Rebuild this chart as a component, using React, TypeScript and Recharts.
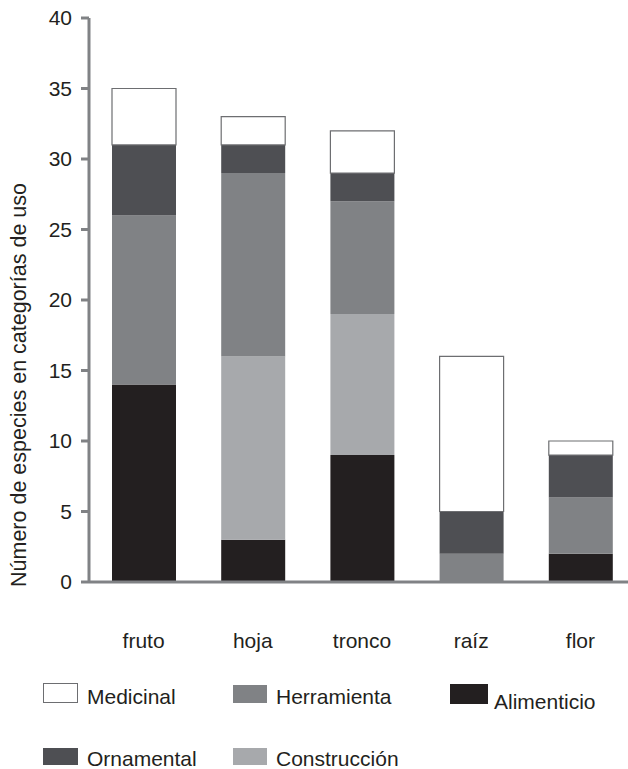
import { BarChart, Bar, XAxis, YAxis } from 'recharts'

const categories = ['fruto', 'hoja', 'tronco', 'raíz', 'flor']
const alimenticio = [14, 3, 9, 0, 2]
const construccion = [0, 13, 10, 0, 0]
const herramienta = [12, 13, 8, 2, 4]
const ornamental = [5, 2, 2, 3, 3]
const medicinal = [4, 2, 3, 11, 1]
const yTicks = [0, 5, 10, 15, 20, 25, 30, 35, 40]

const FONT = '"Liberation Sans", Arial, sans-serif'
const AXIS = '#808285'

// stacking order, bottom to top
const SERIES = [
  { key: 'alimenticio', name: 'Alimenticio', fill: '#231f20', stroke: 'none' },
  { key: 'construccion', name: 'Construcción', fill: '#a7a9ac', stroke: 'none' },
  { key: 'herramienta', name: 'Herramienta', fill: '#808285', stroke: 'none' },
  { key: 'ornamental', name: 'Ornamental', fill: '#4e4f53', stroke: 'none' },
  { key: 'medicinal', name: 'Medicinal', fill: '#ffffff', stroke: '#6d6e71' },
]

const data = categories.map((c, i) => ({
  name: c,
  alimenticio: alimenticio[i],
  construccion: construccion[i],
  herramienta: herramienta[i],
  ornamental: ornamental[i],
  medicinal: medicinal[i],
}))

// legend slots: [series key, box left, box top, box w, box h, text left, text center y]
const LEGEND: [string, number, number, number, number, number, number][] = [
  ['medicinal', 43, 683, 35, 20, 87, 697],
  ['herramienta', 233, 685, 34, 18, 276, 697],
  ['alimenticio', 450, 684, 38, 20, 494, 702],
  ['ornamental', 43, 748, 35, 17, 87, 759],
  ['construccion', 233, 748, 34, 17, 276, 759],
]

function CatTick(props: any) {
  const { x, y, payload } = props
  return (
    <text x={x} y={y + 58} textAnchor="middle" dominantBaseline="central"
      fontFamily={FONT} fontSize={21} fill="#231f20">{payload.value}</text>
  )
}

function YLabel() {
  return (
    <text x={0} y={0} transform="translate(19,385) rotate(-90)" textAnchor="middle"
      dominantBaseline="central" fontFamily={FONT} fontSize={21.5} fill="#231f20">
      Número de especies en categorías de uso
    </text>
  )
}

export default function App() {
  return (
    <div style={{ position: 'fixed', left: 0, top: 0, width: 628, height: 769, overflow: 'hidden', background: '#fff', fontFamily: FONT }}>
      <BarChart width={640} height={769} data={data} barSize={64}
        margin={{ top: 18, right: 5, bottom: 107, left: 0 }}>
        <XAxis dataKey="name" axisLine={{ stroke: AXIS, strokeWidth: 3 }} tickLine={false}
          tickSize={0} tickMargin={0} height={80} tick={<CatTick />} interval={0} />
        <YAxis type="number" domain={[0, 40]} ticks={yTicks} width={89}
          axisLine={{ stroke: AXIS, strokeWidth: 3 }} tickLine={{ stroke: AXIS, strokeWidth: 3 }}
          tickSize={8} tickMargin={9}
          tick={{ fontFamily: FONT, fontSize: 21, fill: '#231f20' }}
          label={<YLabel />} />
        {SERIES.map(s => (
          <Bar key={s.key} dataKey={s.key} name={s.name} stackId="a" fill={s.fill}
            stroke={s.stroke} strokeWidth={s.stroke === 'none' ? 0 : 1.2} isAnimationActive={false} />
        ))}
      </BarChart>
      {LEGEND.map(([k, bx, by, bw, bh, tx, ty]) => {
        const s = SERIES.find(q => q.key === k)!
        return (
          <div key={k}>
            <div style={{ position: 'absolute', left: bx, top: by, width: bw, height: bh, boxSizing: 'border-box',
              background: s.fill, border: s.stroke === 'none' ? 'none' : `1px solid ${s.stroke}` }} />
            <div style={{ position: 'absolute', left: tx, top: ty - 13, height: 26, lineHeight: '26px',
              fontSize: 21, color: '#231f20', whiteSpace: 'nowrap' }}>{s.name}</div>
          </div>
        )
      })}
    </div>
  )
}
